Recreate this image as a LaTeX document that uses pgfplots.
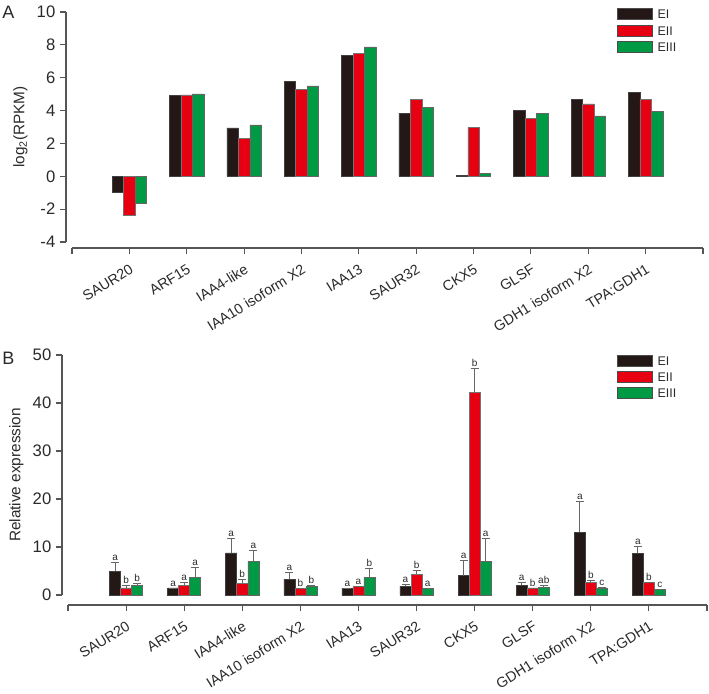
\documentclass[border=0pt]{standalone}
\usepackage{fontspec}
\setmainfont{Liberation Sans}
\usepackage{pgfplots}
\usepackage{pgfplotstable}
\pgfplotsset{compat=1.18}
\definecolor{cI}{HTML}{231815}
\definecolor{cII}{HTML}{E60012}
\definecolor{cIII}{HTML}{009944}
\definecolor{axc}{HTML}{555555}
\definecolor{txt}{HTML}{2A2A2A}

\pgfplotstableread{
x e1 e2 e3
1 -1.00 -2.35 -1.65
2 4.92 4.95 5.02
3 2.95 2.33 3.13
4 5.77 5.30 5.50
5 7.36 7.48 7.87
6 3.85 4.68 4.19
7 0.06 2.99 0.18
8 4.03 3.52 3.85
9 4.68 4.40 3.68
10 5.09 4.70 3.97
}\tabA

\pgfplotstableread{
x e1 d1 l1 e2 d2 l2 e3 d3 l3
1 4.92 1.95 a 1.46 0.54 b 2.08 0.42 b
2 1.46 0.00 a 1.94 0.66 a 3.74 2.02 a
3 8.80 3.00 a 2.43 0.83 b 7.07 2.23 a
4 3.33 1.47 a 1.39 0.00 b 1.87 0.13 b
5 1.39 0.00 a 1.73 0.14 a 3.68 1.87 b
6 1.87 0.42 a 4.37 0.83 b 1.32 0.00 a
7 4.02 3.26 a 42.20 5.00 b 7.07 4.73 a
8 2.08 0.52 a 1.46 0.00 b 1.66 0.34 ab
9 13.04 6.56 a 2.57 0.55 b 1.46 0.14 c
10 8.67 1.53 a 2.57 0.13 b 1.18 0.00 c
}\tabB

\pgfplotsset{
  base/.style={
    scale only axis,
    xmin=0, xmax=11,
    axis x line*=bottom, axis y line*=left,
    axis line style={draw=axc, line width=0.8pt},
    tick style={draw=axc, line width=0.8pt},
    tick align=outside,
    major tick length=4.5pt,
    xtick={0,...,11},
    xticklabels={,SAUR20,ARF15,IAA4-like,IAA10 isoform X2,IAA13,SAUR32,CKX5,GLSF,GDH1 isoform X2,TPA:GDH1,},
    xticklabel style={xshift=0pt, yshift=-5.5pt, rotate=32, anchor=north east, font=\fontsize{10.8}{12}\selectfont, text=txt, inner sep=1pt},
    yticklabel style={font=\fontsize{12.5}{14}\selectfont, text=txt},
    ylabel style={font=\fontsize{11.5}{13}\selectfont, text=txt},
    /pgf/number format/assume math mode=true,
    legend image code/.code={\draw[##1,draw=black!70,line width=0.5pt] (0pt,-4.1pt) rectangle (26.25pt,4.1pt);},
    legend cell align=left,
    legend style={draw=none, fill=none, inner sep=0pt, row sep=3.2pt,
      font=\fontsize{9.4}{11}\selectfont, text=txt,
      nodes={inner sep=1pt, text height=7pt, text depth=0pt},
      /tikz/every odd column/.append style={column sep=2.5pt}},
  },
  barI/.style={ybar, fill=cI, draw=black!75, line width=0.4pt},
  barII/.style={ybar, fill=cII, draw=black!55, line width=0.4pt},
  barIII/.style={ybar, fill=cIII, draw=black!60, line width=0.4pt},
  errs/.style={draw=none, mark=none, forget plot,
    error bars/.cd, y dir=plus, y explicit,
    error bar style={draw=black!60, line width=0.6pt},
    error mark options={draw=black!60, line width=0.6pt, mark size=3pt, rotate=90}},
  lets/.style={draw=none, mark=none, forget plot, nodes near coords,
    point meta=explicit symbolic,
    nodes near coords style={anchor=south, inner sep=1pt, font=\fontsize{7.5}{8}\selectfont, text=txt}},
}

\begin{document}
\begin{tikzpicture}
\useasboundingbox (0pt,0pt) rectangle (531.75pt,519.75pt);

\begin{axis}[base,
  at={(54pt,338.25pt)}, anchor=south west,
  width=473.25pt, height=172.5pt,
  ymin=-4, ymax=10, ytick={-4,-2,...,10},
  axis x line shift=4.5pt, axis y line shift=4.5pt,
  ylabel={log\textsubscript{2}(RPKM)},
  legend style={at={(rel axis cs:0.8637,1)}, anchor=north west, yshift=3pt},
]
\addplot[barI, bar width=0.2, bar shift=-0.2] table[x=x,y=e1]{\tabA};
\addplot[barII, bar width=0.2, bar shift=0] table[x=x,y=e2]{\tabA};
\addplot[barIII, bar width=0.2, bar shift=0.2] table[x=x,y=e3]{\tabA};
\legend{EI,EII,EIII}
\end{axis}

\begin{axis}[base,
  at={(51pt,73.5pt)}, anchor=south west,
  width=479.25pt, height=180pt,
  ymin=0, ymax=50, ytick={0,10,...,50},
  axis x line shift=7.5pt, axis y line shift=4.5pt,
  ylabel={Relative expression},
  legend style={at={(rel axis cs:0.859,1)}, anchor=north west, yshift=0.6pt},
]
\addplot[barI, bar width=0.19, bar shift=-0.19] table[x=x,y=e1]{\tabB};
\addplot[barII, bar width=0.19, bar shift=0] table[x=x,y=e2]{\tabB};
\addplot[barIII, bar width=0.19, bar shift=0.19] table[x=x,y=e3]{\tabB};
\legend{EI,EII,EIII}
\addplot[errs] table[x expr=\thisrow{x}-0.19, y=e1, y error=d1]{\tabB};
\addplot[errs] table[x=x, y=e2, y error=d2]{\tabB};
\addplot[errs] table[x expr=\thisrow{x}+0.19, y=e3, y error=d3]{\tabB};
\addplot[lets] table[x expr=\thisrow{x}-0.19, y expr=\thisrow{e1}+\thisrow{d1}, meta=l1]{\tabB};
\addplot[lets] table[x expr=\thisrow{x}, y expr=\thisrow{e2}+\thisrow{d2}, meta=l2]{\tabB};
\addplot[lets] table[x expr=\thisrow{x}+0.19, y expr=\thisrow{e3}+\thisrow{d3}, meta=l3]{\tabB};
\end{axis}

\node[anchor=north west, inner sep=0pt, font=\fontsize{13.5}{15}\selectfont, text=txt] at (1.5pt,515.5pt) {A};
\node[anchor=north west, inner sep=0pt, font=\fontsize{13.5}{15}\selectfont, text=txt] at (1.5pt,255.5pt) {B};
\end{tikzpicture}
\end{document}
